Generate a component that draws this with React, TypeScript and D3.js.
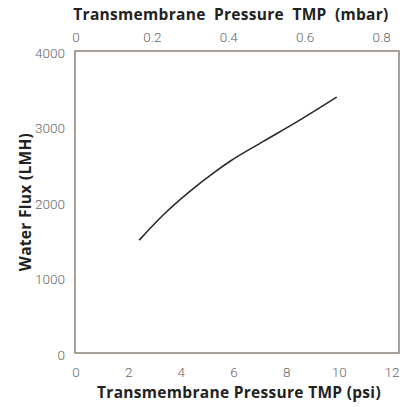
import { scaleLinear, line as d3_line, curveMonotoneX } from "d3";

// Transmembrane pressure (psi) vs water flux (LMH)
const tmpPsi = [2.4, 3.3, 4.3, 5.2, 5.85, 7.1, 8.4, 9.9];
const fluxLmh = [1495, 1825, 2135, 2380, 2540, 2800, 3065, 3390];

const psiTicks = [0, 2, 4, 6, 8, 10, 12];
const barTicks = [0, 0.2, 0.4, 0.6, 0.8];
const fluxTicks = [0, 1000, 2000, 3000, 4000];

const PSI_PER_BAR = 14.5038;

const W = 410;
const H = 407;
const frame = { left: 75, right: 399, top: 51, bottom: 353 };

const tickFont = "Roboto, 'DejaVu Sans', sans-serif";
const titleFont = "'Open Sans', 'DejaVu Sans', sans-serif";

export default function App() {
  const x = scaleLinear().domain([0, 12]).range([76, 392]);
  const xTop = scaleLinear().domain([0, 12 / PSI_PER_BAR]).range([76, 392]);
  const y = scaleLinear().domain([0, 4000]).range([frame.bottom, frame.top]);

  const points = tmpPsi.map((p, i) => ({ psi: p, flux: fluxLmh[i] }));
  const path = d3_line<{ psi: number; flux: number }>()
    .x((d) => x(d.psi))
    .y((d) => y(d.flux))
    .curve(curveMonotoneX)(points);

  const titleProps = {
    fontFamily: titleFont,
    fontWeight: 700,
    fontSize: 15.5,
    letterSpacing: 0.3,
    fill: "#222",
  };
  const tickProps = {
    fontFamily: tickFont,
    fontWeight: 300,
    fontSize: 13.5,
    fill: "#666",
  };

  return (
    <svg
      width={W}
      height={H}
      style={{ position: "absolute", left: 0, top: 0, background: "#fff" }}
    >
      {/* frame */}
      <rect
        x={frame.left}
        y={frame.top}
        width={frame.right - frame.left}
        height={frame.bottom - frame.top}
        fill="none"
        stroke="#8b837a"
        strokeWidth={1.5}
      />

      {/* top axis (bar) */}
      <text x={231} y={20} textAnchor="middle" wordSpacing={4} {...titleProps}>
        Transmembrane Pressure TMP (mbar)
      </text>
      {barTicks.map((t) => (
        <text key={t} x={xTop(t)} y={42} textAnchor="middle" {...tickProps}>
          {t === 0 ? "0" : t.toFixed(1)}
        </text>
      ))}

      {/* bottom axis (psi) */}
      {psiTicks.map((t) => (
        <text key={t} x={x(t)} y={377} textAnchor="middle" {...tickProps}>
          {t}
        </text>
      ))}
      <text x={239} y={398} textAnchor="middle" {...titleProps}>
        Transmembrane Pressure TMP (psi)
      </text>

      {/* left axis (flux) */}
      {fluxTicks.map((t) => (
        <text key={t} x={65} y={y(t)} dy="0.5em" textAnchor="end" {...tickProps}>
          {t}
        </text>
      ))}
      <text
        transform={`translate(31, ${(frame.top + frame.bottom) / 2}) rotate(-90)`}
        textAnchor="middle"
        {...titleProps}
      >
        Water Flux (LMH)
      </text>

      {/* flux curve */}
      {path && (
        <path d={path} fill="none" stroke="#2b2b2b" strokeWidth={1.6} />
      )}
    </svg>
  );
}
